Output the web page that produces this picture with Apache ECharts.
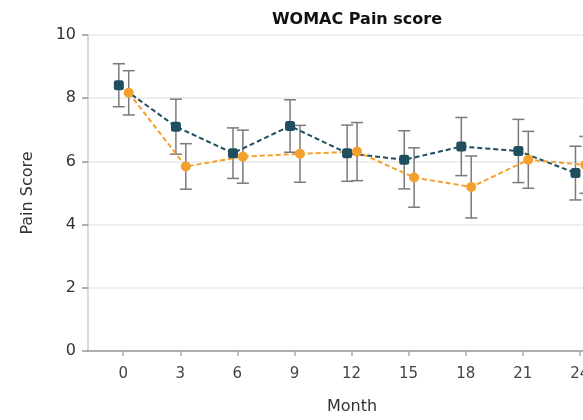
<!DOCTYPE html>
<html>
<head>
    <meta charset="utf-8">
    <script src="https://cdn.jsdelivr.net/npm/echarts@6/dist/echarts.min.js"></script>
    <style>
        html, body { margin: 0; padding: 0; background: #fff; overflow: hidden; }
        #chart { width: 650px; height: 420px; }
    </style>
</head>
<body>
    <div id="chart"></div>
    <script type="text/javascript">
        // months of follow-up
        var months = [0, 3, 6, 9, 12, 15, 18, 21, 24];
        var monthTicks = [0, 3, 6, 9, 12, 15, 18, 21, 24];

        // group 1 (dark teal)
        var blueMean = [8.41, 7.10, 6.26, 7.12, 6.26, 6.05, 6.47, 6.33, 5.63];
        var blueErr  = [0.68, 0.87, 0.80, 0.83, 0.89, 0.92, 0.92, 1.00, 0.85];
        // group 2 (orange)
        var orangeMean = [8.17, 5.84, 6.15, 6.24, 6.31, 5.49, 5.19, 6.05, 5.89];
        var orangeErr  = [0.70, 0.72, 0.84, 0.90, 0.92, 0.94, 0.98, 0.90, 0.90];

        var BLUE = '#1f4f5e';
        var ORANGE = '#f5a02c';
        var FONT = 'DejaVu Sans';

        function pts(mean, shift) {
            return months.map(function (m, i) { return [m + shift, mean[i]]; });
        }
        function bars(mean, err, shift) {
            return months.map(function (m, i) { return [m + shift, mean[i] - err[i], mean[i] + err[i]]; });
        }

        function renderErr(params, api) {
            var x = api.value(0);
            var lo = api.coord([x, api.value(1)]);
            var hi = api.coord([x, api.value(2)]);
            var w = 6;
            var st = { stroke: '#7a7a7a', lineWidth: 1.5 };
            return {
                type: 'group',
                children: [
                    { type: 'line', shape: { x1: lo[0], y1: lo[1], x2: hi[0], y2: hi[1] }, style: st },
                    { type: 'line', shape: { x1: lo[0] - w, y1: lo[1], x2: lo[0] + w, y2: lo[1] }, style: st },
                    { type: 'line', shape: { x1: hi[0] - w, y1: hi[1], x2: hi[0] + w, y2: hi[1] }, style: st }
                ]
            };
        }

        var option = {
            animation: false,
            backgroundColor: '#fff',
            title: {
                text: 'WOMAC Pain score',
                left: 352,
                textAlign: 'center',
                top: 7,
                textStyle: { fontFamily: FONT, fontSize: 16, fontWeight: 'bold', color: '#111' }
            },
            grid: { left: 88, right: 34, top: 35, bottom: 68 },
            xAxis: {
                type: 'value',
                min: -1.85,
                max: 25.9,
                name: 'Month',
                nameLocation: 'middle',
                nameGap: 48,
                nameTextStyle: { fontFamily: FONT, fontSize: 16, color: '#333' },
                axisLine: { show: true, onZero: false, lineStyle: { color: '#999', width: 1.5 } },
                axisTick: { show: true, length: 5, customValues: monthTicks, lineStyle: { color: '#aaa', width: 1.5 } },
                axisLabel: { customValues: monthTicks, margin: 16, fontFamily: FONT, fontSize: 15, color: '#444' },
                splitLine: { show: false }
            },
            yAxis: {
                type: 'value',
                min: 0,
                max: 10,
                interval: 2,
                name: 'Pain Score',
                nameLocation: 'middle',
                nameGap: 52,
                nameTextStyle: { fontFamily: FONT, fontSize: 16, color: '#333' },
                axisLine: { show: true, onZero: false, lineStyle: { color: '#ccc', width: 1.5 } },
                axisTick: { show: true, length: 6, lineStyle: { color: '#999', width: 1.5 } },
                axisLabel: { margin: 12, fontFamily: FONT, fontSize: 16, color: '#333' },
                splitLine: { show: true, lineStyle: { color: '#e8e8e8', width: 1.5 } }
            },
            series: [
                {
                    type: 'custom',
                    renderItem: renderErr,
                    data: bars(blueMean, blueErr, -0.23),
                    encode: { x: 0, y: [1, 2] },
                    z: 1
                },
                {
                    type: 'custom',
                    renderItem: renderErr,
                    data: bars(orangeMean, orangeErr, 0.29),
                    encode: { x: 0, y: [1, 2] },
                    z: 1
                },
                {
                    type: 'line',
                    data: pts(blueMean, -0.23),
                    symbol: 'roundRect',
                    symbolSize: 10,
                    lineStyle: { color: BLUE, width: 2, type: [5, 3] },
                    itemStyle: { color: BLUE },
                    z: 3
                },
                {
                    type: 'line',
                    data: pts(orangeMean, 0.29),
                    symbol: 'circle',
                    symbolSize: 10,
                    lineStyle: { color: ORANGE, width: 2, type: [5, 3] },
                    itemStyle: { color: ORANGE },
                    z: 3
                }
            ]
        };

        var myChart = echarts.init(document.getElementById('chart'));
        myChart.setOption(option);
    </script>
</body>
</html>
